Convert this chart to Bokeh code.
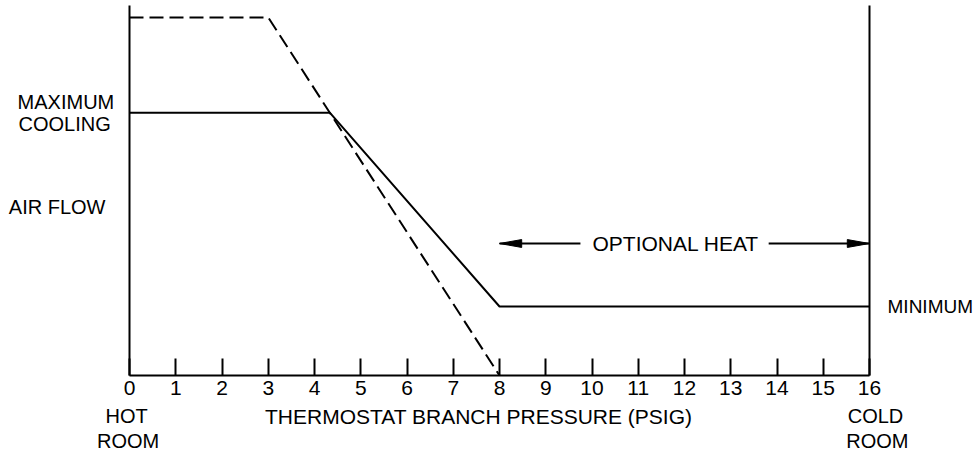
from bokeh.plotting import figure
from bokeh.models import Range1d, FixedTicker, Label, LinearAxis
from bokeh.embed import file_html
from bokeh.resources import INLINE

# ---- data ----
pressure_ticks = list(range(0, 17))          # PSIG tick values
dashed_x = [0, 3, 8]                          # dashed air-flow curve
dashed_y = [95.5, 95.5, 0.0]
solid_x = [0, 4.33, 8, 16]                    # solid air-flow curve
solid_y = [70.1, 70.1, 18.4, 18.4]
bound_x = [0, 16]                             # hot-room / cold-room limits
bound_top = 98.7
heat_span = [8, 16]                           # optional heat range
heat_level = 35.2
heat_gap = [9.75, 13.82]                      # gap in arrow for its text

# ---- layout constants ----
W, H = 977, 453
LEFT_PX, RIGHT_PX, BOTTOM_PX = 129, 108, 78
px_x = (W - LEFT_PX - RIGHT_PX) / 16.0
px_y = (H - BOTTOM_PX) / 100.0
FONT = "Liberation Sans"

p = figure(width=W, height=H,
           x_range=Range1d(-LEFT_PX / px_x, 16 + RIGHT_PX / px_x),
           y_range=Range1d(-BOTTOM_PX / px_y, 100),
           output_backend="svg", toolbar_location=None,
           x_axis_location=None, y_axis_location=None,
           min_border_left=0, min_border_right=0, min_border_top=0,
           min_border_bottom=0)
p.outline_line_color = None
p.background_fill_color = "white"
p.border_fill_color = "white"
p.xgrid.grid_line_color = None
p.ygrid.grid_line_color = None

ax = LinearAxis(ticker=FixedTicker(ticks=pressure_ticks), bounds=(0, 16),
                fixed_location=0)
ax.axis_line_width = 2
ax.axis_line_color = "black"
ax.major_tick_in = 17
ax.major_tick_out = 0
ax.major_tick_line_width = 2
ax.major_tick_line_color = "black"
ax.minor_tick_line_color = None
ax.major_label_text_font = FONT
ax.major_label_text_font_size = "21px"
ax.major_label_text_color = "black"
ax.major_label_standoff = 5
p.add_layout(ax, "below")

# boundary verticals
for bx in bound_x:
    p.line([bx, bx], [0, bound_top], line_color="black", line_width=2)

# curves
p.line(dashed_x, dashed_y, line_color="black", line_width=2, line_dash="14 6")
p.line(solid_x, solid_y, line_color="black", line_width=2)

# optional heat arrows
hl, hw = 0.48, 1.05
p.line([heat_span[0], heat_gap[0]], [heat_level, heat_level], line_color="black", line_width=2)
p.line([heat_gap[1], heat_span[1]], [heat_level, heat_level], line_color="black", line_width=2)
p.patches([[heat_span[0], heat_span[0] + hl, heat_span[0] + hl],
           [heat_span[1], heat_span[1] - hl, heat_span[1] - hl]],
          [[heat_level, heat_level + hw, heat_level - hw]] * 2,
          fill_color="black", line_color="black", line_width=1)

labels = [
    ("MAXIMUM", -2.42, 73.0, "left", "20px"),
    ("COOLING", -2.40, 67.1, "left", "20px"),
    ("AIR FLOW", -2.61, 45.0, "left", "20px"),
    ("MINIMUM", 16.39, 18.3, "left", "19px"),
    ("OPTIONAL HEAT", 11.81, 35.1, "center", "21px"),
    ("HOT", -0.06, -10.9, "center", "20px"),
    ("ROOM", -0.03, -17.5, "center", "20px"),
    ("THERMOSTAT BRANCH PRESSURE (PSIG)", 7.55, -10.9, "center", "21px"),
    ("COLD", 16.13, -10.9, "center", "20px"),
    ("ROOM", 16.17, -17.5, "center", "20px"),
]
for t, x, y, al, fs in labels:
    p.add_layout(Label(x=x, y=y, text=t, text_font=FONT, text_font_size=fs,
                       text_color="black", text_align=al,
                       text_baseline="alphabetic"))

open("out.html", "w").write(file_html(p, INLINE))
